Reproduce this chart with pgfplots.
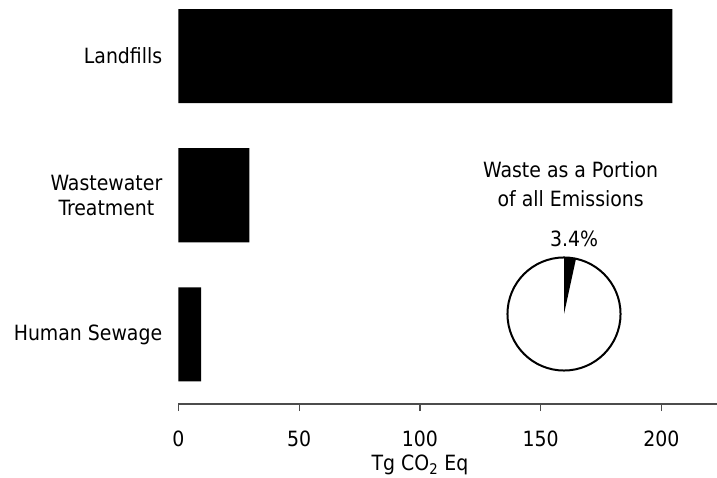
\documentclass[border=0pt]{standalone}
\usepackage{fontspec}
\setmainfont{DejaVu Sans Condensed}
\usepackage{pgfplots}
\pgfplotsset{compat=1.18}
\newcommand{\myfont}{\fontsize{15.75}{19}\selectfont}
\begin{document}
\myfont
\begin{tikzpicture}[font=\myfont]
\path[use as bounding box] (0,0) rectangle (537.75pt,358.5pt);
\begin{axis}[
  at={(133.875pt,55.5pt)}, anchor=south west,
  scale only axis, width=403.875pt, height=303pt,
  xbar, bar width=0.676,
  xmin=0, xmax=223, ymin=-0.5, ymax=2.403,
  axis x line*=bottom, axis y line*=left,
  y axis line style={draw=none},
  x axis line style={-, draw=black!70, line width=0.9pt},
  xtick={0,50,100,150,200},
  xtick style={draw=black!70, line width=0.9pt},
  tick align=outside, major tick length=5.25pt,
  ytick={0,1,2},
  yticklabels={Human Sewage, {Wastewater\\Treatment}, Landfills},
  ytick style={draw=none},
  tick label style={font=\myfont},
  label style={font=\myfont},
  yticklabel style={align=center, xshift=-1.5pt},
  xticklabel style={anchor=base, yshift=-26.25pt},
  /pgf/number format/assume math mode=true,
  xlabel={Tg CO\textsubscript{2} Eq},
  xlabel style={at={(axis description cs:0.4484,0)}, anchor=base, yshift=-49.5pt},
  clip=false,
]
\addplot[fill=black, draw=none] coordinates {(9.4,0) (29.3,1) (204.5,2)};
\end{axis}
\begin{axis}[
  at={(423pt,123pt)}, anchor=center,
  scale only axis, width=84.8pt, height=84.8pt,
  xmin=-1, xmax=1, ymin=-1, ymax=1,
  hide axis, clip=false,
]
\addplot[fill=black, draw=none] coordinates {(0,0) (0,1) (0.2120,0.9773) (0,0)};
\draw[line width=1.5pt] (axis cs:0,0) circle[radius=42.4pt];
\end{axis}
\node[anchor=base] at (428pt,225pt) {Waste as a Portion};
\node[anchor=base] at (428pt,203.25pt) {of all Emissions};
\node[anchor=base] at (430.5pt,173.25pt) {3.4\%};
\end{tikzpicture}
\end{document}
